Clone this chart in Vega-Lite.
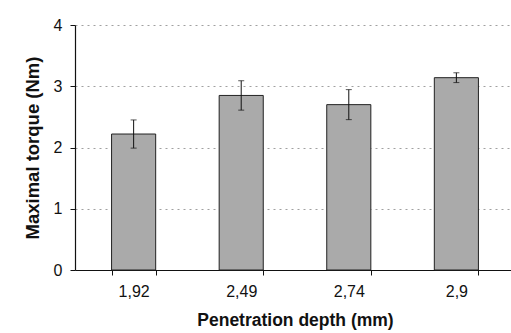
{
  "$schema": "https://vega.github.io/schema/vega-lite/v6.json",
  "autosize": "none",
  "padding": {"left": 75, "top": 25, "right": 0, "bottom": 63},
  "width": 440,
  "height": 245,
  "background": "white",
  "config": {
    "view": {"stroke": null},
    "font": "Liberation Sans",
    "axis": {"labelColor": "#111", "titleColor": "#111", "domainColor": "#111", "tickColor": "#111"}
  },
  "data": {
    "values": [
      {"depth": "1,92", "torque": 2.22, "lo": 1.99, "hi": 2.45},
      {"depth": "2,49", "torque": 2.85, "lo": 2.61, "hi": 3.09},
      {"depth": "2,74", "torque": 2.70, "lo": 2.455, "hi": 2.945},
      {"depth": "2,9", "torque": 3.14, "lo": 3.06, "hi": 3.22}
    ]
  },
  "encoding": {
    "x": {
      "field": "depth",
      "type": "nominal",
      "sort": null,
      "scale": {"paddingInner": 0.59, "paddingOuter": 0.34},
      "axis": {
        "title": "Penetration depth (mm)",
        "titleFontSize": 17.5,
        "titleFontWeight": "bold",
        "titlePadding": 12,
        "labelAngle": 0,
        "labelFontSize": 16,
        "labelPadding": 8,
        "tickBand": "extent",
        "tickSize": 5,
        "domainWidth": 1.2
      }
    }
  },
  "layer": [
    {
      "mark": {"type": "bar", "fill": "#aaaaaa", "stroke": "#222", "strokeWidth": 1},
      "encoding": {
        "y": {
          "field": "torque",
          "type": "quantitative",
          "scale": {"domain": [0, 4]},
          "axis": {
            "title": "Maximal torque (Nm)",
            "titleFontSize": 18.5,
            "titleFontWeight": "bold",
            "titlePadding": 11,
            "values": [0, 1, 2, 3, 4],
            "format": "d",
            "labelFontSize": 16,
            "labelPadding": 8,
            "tickSize": 5,
            "domainWidth": 1.2,
            "grid": true,
            "gridColor": "#888",
            "gridDash": [2, 4],
            "gridWidth": 0.8
          }
        }
      }
    },
    {
      "mark": {"type": "errorbar", "ticks": {"size": 6, "color": "#111"}, "rule": {"color": "#111", "strokeWidth": 1}},
      "encoding": {
        "y": {"field": "lo", "type": "quantitative", "title": "Maximal torque (Nm)"},
        "y2": {"field": "hi"}
      }
    }
  ]
}
